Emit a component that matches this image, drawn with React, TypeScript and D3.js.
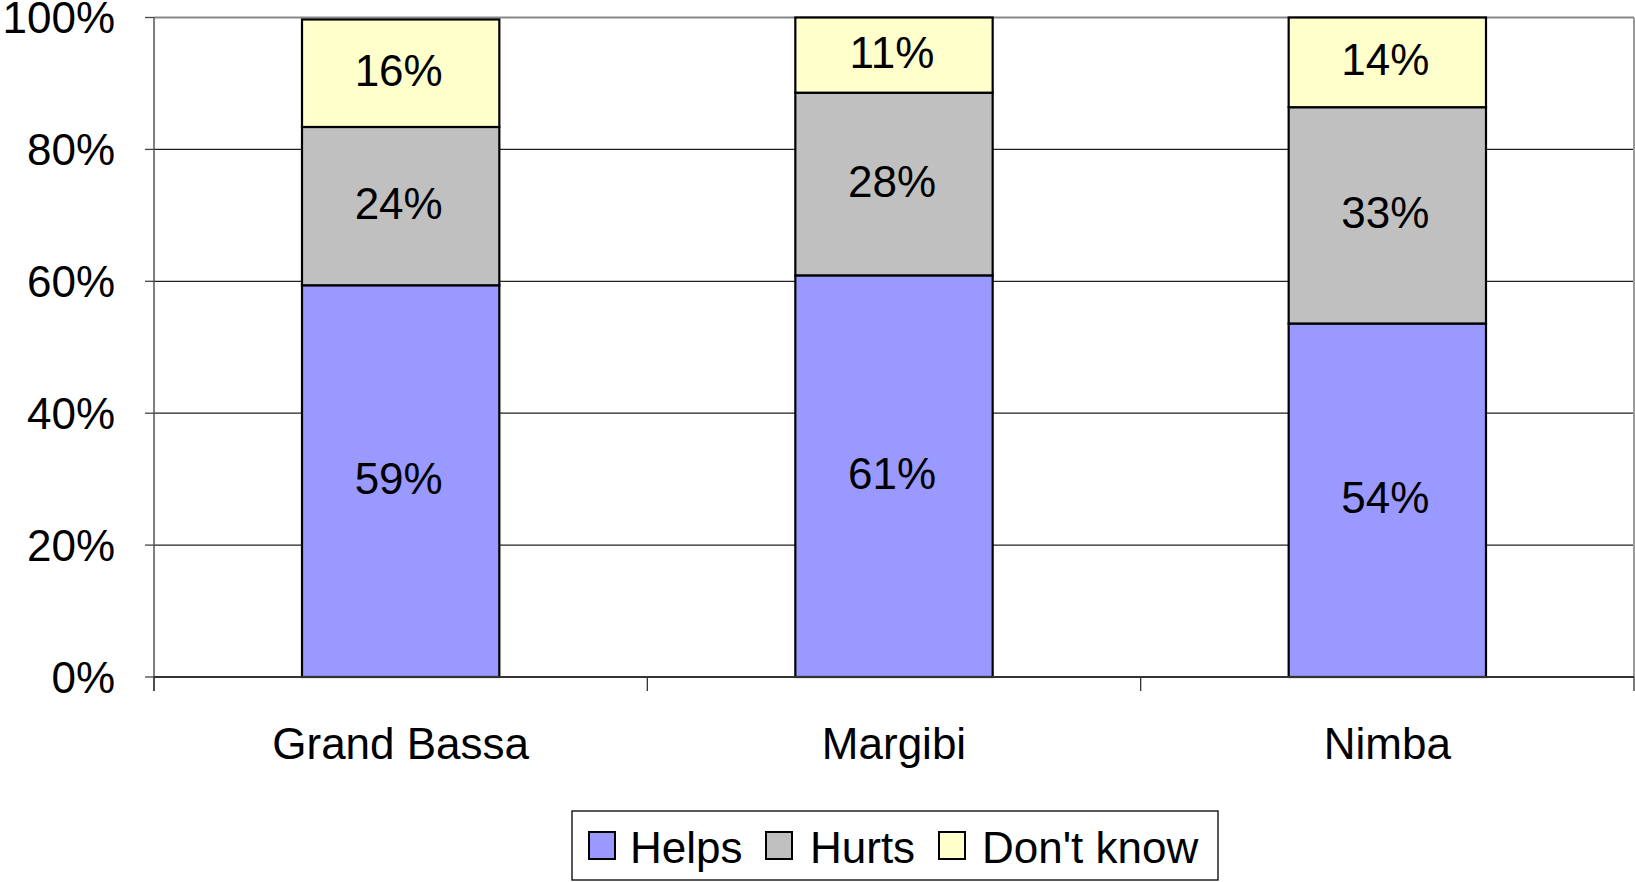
import React from "react";
import * as d3 from "d3";

const categories = ["Grand Bassa", "Margibi", "Nimba"];
const seriesNames = ["Helps", "Hurts", "Don't know"];
const helps = [59.4, 60.9, 53.6];
const hurts = [24.0, 27.7, 32.8];
const dontKnow = [16.3, 11.4, 13.6];
const yTicks = [0, 20, 40, 60, 80, 100];
const colors = ["#9999FF", "#C0C0C0", "#FFFFCC"];

const W = 1635;
const H = 882;
const left = 154;
const right = 1634;
const top = 17.5;
const bottom = 677;
const FONT = "'Liberation Sans', Arial, sans-serif";
const FS = 44;

export default function App() {
  const x = d3.scaleBand<string>().domain(categories).range([left, right]).padding(0);
  const y = d3.scaleLinear().domain([0, 100]).range([bottom, top]);
  const barW = x.bandwidth() / 2.5;
  const table = categories.map((c, i) => ({ cat: c, Helps: helps[i], Hurts: hurts[i], "Don't know": dontKnow[i] }));
  const stack = d3.stack<any>().keys(seriesNames)(table);

  const legendX = 572;
  const legendY = 811;
  const legendItems = [
    { sw: 589, tx: 630 },
    { sw: 766, tx: 810 },
    { sw: 939, tx: 982 },
  ];

  return (
    <svg width={W} height={H} style={{ position: "absolute", left: 0, top: 0, background: "#fff" }} fontFamily={FONT}>
      {yTicks.filter((t) => t > 0).map((t) => (
        <line key={"g" + t} x1={left} x2={right} y1={y(t)} y2={y(t)} stroke={t === 100 ? "#888" : "#222"} strokeWidth={t === 100 ? 2 : 1.2} />
      ))}
      <line x1={right} x2={right} y1={top} y2={bottom} stroke="#999" strokeWidth={2} />
      <line x1={left} x2={left} y1={top} y2={bottom + 14} stroke="#555" strokeWidth={1.5} />
      {yTicks.map((t) => (
        <g key={"t" + t}>
          <line x1={left - 9} x2={left} y1={y(t)} y2={y(t)} stroke="#444" strokeWidth={1.3} />
          <text x={115} y={y(t) + 15.5} textAnchor="end" fontSize={FS} fill="#000">{t}%</text>
        </g>
      ))}
      {stack.map((s, si) =>
        s.map((d, i) => {
          const cx = (x(categories[i]) as number) + x.bandwidth() / 2;
          const y0 = y(d[0]);
          const y1 = y(d[1]);
          return (
            <g key={si + "-" + i}>
              <rect x={cx - barW / 2} y={y1} width={barW} height={y0 - y1} fill={colors[si]} stroke="#000" strokeWidth={2.2} />
              <text x={cx - 2} y={(y0 + y1) / 2 + 13} textAnchor="middle" fontSize={FS} fill="#000">
                {Math.round(d[1] - d[0])}%
              </text>
            </g>
          );
        })
      )}
      <line x1={left} x2={right} y1={bottom} y2={bottom} stroke="#333" strokeWidth={2} />
      {categories.map((c, i) => (
        <line key={"xt" + i} x1={x(c) as number} x2={x(c) as number} y1={bottom} y2={bottom + 14} stroke="#333" strokeWidth={1.3} />
      ))}
      <line x1={right} x2={right} y1={bottom} y2={bottom + 14} stroke="#333" strokeWidth={1.3} />
      {categories.map((c) => (
        <text key={"xl" + c} x={(x(c) as number) + x.bandwidth() / 2} y={759} textAnchor="middle" fontSize={FS} fill="#000">
          {c}
        </text>
      ))}
      <rect x={legendX} y={legendY} width={1218 - legendX} height={69} fill="#fff" stroke="#000" strokeWidth={1.3} />
      {seriesNames.map((n, i) => (
        <g key={"lg" + n}>
          <rect x={legendItems[i].sw} y={832} width={26} height={27} fill={colors[i]} stroke="#000" strokeWidth={2} />
          <text x={legendItems[i].tx} y={863} fontSize={FS} fill="#000">{n}</text>
        </g>
      ))}
    </svg>
  );
}
